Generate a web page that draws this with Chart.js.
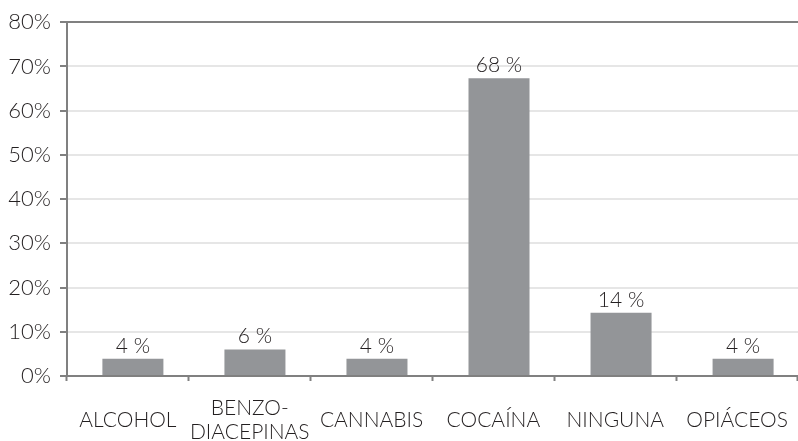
<!DOCTYPE html>
<html>
<head>
<meta charset="utf-8">
<script src="https://cdn.jsdelivr.net/npm/chart.js@4/dist/chart.umd.min.js"></script>
<style>
  html, body { margin: 0; padding: 0; background: #fff; }
  #wrap { width: 798px; height: 441px; }
</style>
</head>
<body>
<div id="wrap"><canvas id="barChart" width="798" height="441"></canvas></div>
<script>
// datos
var categories = ['ALCOHOL', ['BENZO-', 'DIACEPINAS'], 'CANNABIS', 'COCAÍNA', 'NINGUNA', 'OPIÁCEOS'];
var values = [3.9, 6.0, 3.9, 67.3, 14.3, 3.9];
var valueLabels = ['4 %', '6 %', '4 %', '68 %', '14 %', '4 %'];
var yTicks = [0, 10, 20, 30, 40, 50, 60, 70, 80];

var fontFamily = 'Lato, "Open Sans", sans-serif';
var textColor = '#231f20';
var axisGray = '#808080';

// etiquetas encima de las barras
var valueLabelPlugin = {
    id: 'valueLabels',
    afterDatasetsDraw: function (chart) {
        var ctx = chart.ctx;
        var meta = chart.getDatasetMeta(0);
        ctx.save();
        ctx.font = '300 21px ' + fontFamily;
        ctx.fillStyle = textColor;
        ctx.textAlign = 'center';
        ctx.textBaseline = 'alphabetic';
        meta.data.forEach(function (bar, i) {
            ctx.fillText(valueLabels[i], bar.x, bar.y - 6);
        });
        ctx.restore();
    }
};

var ctx = document.getElementById('barChart').getContext('2d');
new Chart(ctx, {
    type: 'bar',
    data: {
        labels: categories,
        datasets: [{
            // barras sobre un eje lineal oculto (van algo desplazadas respecto a las marcas)
            data: values.map(function (v, i) { return { x: i, y: v }; }),
            xAxisID: 'xb',
            backgroundColor: '#939598',
            borderWidth: 0,
            barPercentage: 0.5,
            categoryPercentage: 1
        }]
    },
    options: {
        responsive: false,
        animation: false,
        layout: { padding: { top: 19, right: 0, left: 0, bottom: 0 } },
        plugins: {
            legend: { display: false },
            tooltip: { enabled: false }
        },
        scales: {
            xb: {
                type: 'linear',
                display: false,
                offset: false,
                min: -0.54,
                max: 5.45,
                afterBuildTicks: function (scale) {
                    scale.ticks = values.map(function (v, i) { return { value: i }; });
                }
            },
            x: {
                type: 'category',
                grid: {
                    offset: true,
                    drawOnChartArea: false,
                    tickLength: 5,
                    tickColor: axisGray,
                    tickWidth: 2
                },
                border: { color: axisGray, width: 2 },
                ticks: {
                    color: textColor,
                    padding: 27,
                    crossAlign: 'center',
                    maxRotation: 0,
                    autoSkip: false,
                    font: { family: fontFamily, size: 21, weight: '300', lineHeight: '24px' }
                },
                afterFit: function (scale) {
                    scale.height = 65;
                    scale.paddingLeft = 0;
                    scale.paddingRight = 0;
                }
            },
            y: {
                min: 0,
                max: 80,
                afterBuildTicks: function (scale) {
                    scale.ticks = yTicks.map(function (v) { return { value: v }; });
                },
                grid: {
                    color: function (c) { return c.tick && c.tick.value === 80 ? axisGray : '#e6e6e6'; },
                    lineWidth: 2,
                    tickLength: 7,
                    tickColor: axisGray,
                    tickWidth: 2
                },
                border: { color: axisGray, width: 2 },
                ticks: {
                    color: textColor,
                    padding: 9,
                    font: { family: fontFamily, size: 22, weight: '300' },
                    callback: function (v) { return v + '%'; }
                },
                afterFit: function (scale) { scale.width = 67; }
            }
        }
    },
    plugins: [valueLabelPlugin]
});
</script>
</body>
</html>
